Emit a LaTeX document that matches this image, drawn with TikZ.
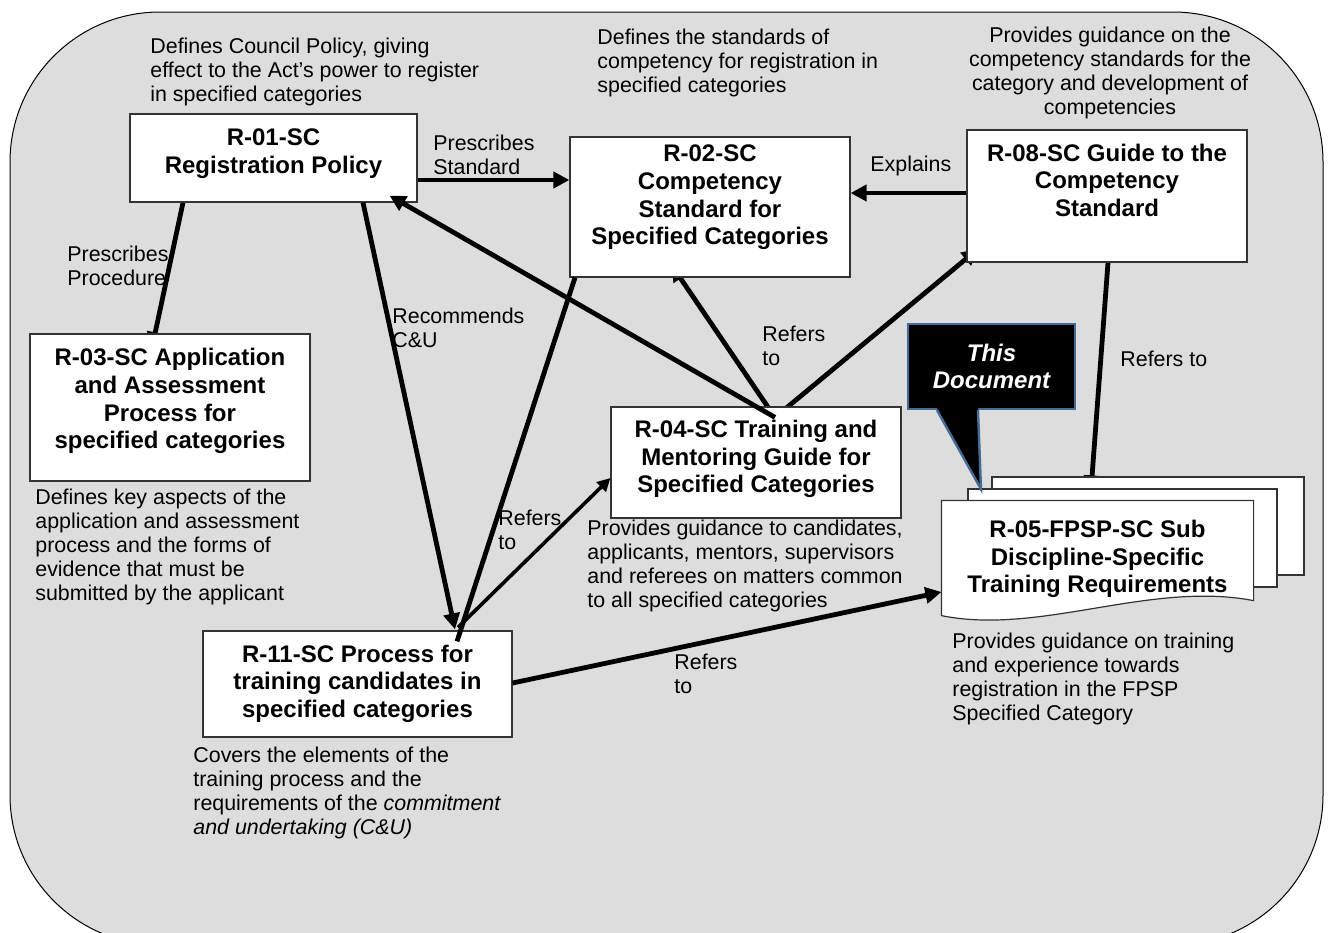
\documentclass[tikz,border=0pt]{standalone}
\usepackage{fontspec}
\setmainfont{Liberation Sans}
\usetikzlibrary{arrows.meta,calc}
\pgfdeclarelayer{panel}
\pgfdeclarelayer{under}
\pgfsetlayers{panel,under,main}
\definecolor{panelgray}{RGB}{221,221,221}
\definecolor{calloutblue}{RGB}{68,108,150}

\begin{document}
\begin{tikzpicture}[x=0.5pt,y=-0.5pt,
    doc/.style={draw=black!80, line width=0.6pt, fill=white, align=center,
      font=\fontsize{12}{13.8}\selectfont\bfseries, inner sep=0pt},
    sheet/.style={draw=black!80, line width=0.6pt, fill=white, inner sep=0pt},
    note/.style={anchor=north west, align=left, inner sep=0pt,
      font=\fontsize{10.7}{12}\selectfont},
    conn/.style={line width=2.4pt, -{Triangle[length=8pt,width=8pt]}},
    thinconn/.style={line width=1.8pt, -{Triangle[length=6.5pt,width=6.5pt]}},
    plainconn/.style={line width=2.4pt}]
  \useasboundingbox (0,0) rectangle (1328,932);

  \begin{pgfonlayer}{panel}
    \draw[fill=panelgray, line width=0.5pt, rounded corners=75pt] (10,12) rectangle (1323,945);
  \end{pgfonlayer}

  % the documents
  \node[doc, minimum width=143.5pt, minimum height=44pt, text depth=7pt] (r01) at (273.5,158) {R-01-SC\\Registration Policy};
  \node[doc, minimum width=140pt, minimum height=70pt, text depth=12pt] (r02) at (710,207) {R-02-SC\\Competency\\Standard for\\Specified Categories};
  \node[doc, minimum width=140pt, minimum height=66pt, text depth=16pt] (r08) at (1107,196) {R-08-SC Guide to the\\Competency\\Standard};
  \node[doc, minimum width=140pt, minimum height=73.5pt, text depth=9pt] (r03) at (170,407.5) {R-03-SC Application\\and Assessment\\Process for\\specified categories};
  \node[doc, minimum width=145pt, minimum height=55.5pt, text depth=6pt] (r04) at (756,462.5) {R-04-SC Training and\\Mentoring Guide for\\Specified Categories};
  \node[doc, minimum width=154.5pt, minimum height=53pt, text depth=3pt] (r11) at (357.5,684) {R-11-SC Process for\\training candidates in\\specified categories};
  \node[doc, draw=none, fill=none, minimum width=155.5pt, minimum height=58.5pt, text depth=3pt] (r05) at (1097.5,559.5) {R-05-FPSP-SC Sub\\Discipline-Specific\\Training Requirements};

  % callout
  \node[fill=black, draw=calloutblue, line width=1.2pt, minimum width=83.5pt, minimum height=42.5pt,
    text=white, align=center, inner sep=0pt,
    font=\fontsize{12}{13.5}\selectfont\bfseries\itshape] (this) at (991.5,366.5) {This\\Document};
  \fill[black] ($(this.south)+(-54.5,-2)$) -- ($(this.south)+(-10.5,79)$) -- ($(this.south)+(-13.5,-2)$) -- cycle;
  \draw[calloutblue, line width=1.2pt] ($(this.south)+(-54.5,0)$) -- ($(this.south)+(-10.5,79)$) -- ($(this.south)+(-13.5,0)$);

  % connectors whose heads hide under the boxes
  \begin{pgfonlayer}{under}
    \draw[conn] ($(r01.south)+(-90.5,0)$) -- ($(r03.north)+(-18.1,14.7)$);
    \draw[conn] ($(r04.north)+(19,11)$) -- ($(r02.south)+(-38.4,-12.4)$);
    \draw[conn] ($(r04.north)+(19,11)$) -- ($(r08.south west)+(11.5,-13.6)$);
    \draw[conn] ($(r08.south)+(1,0)$) -- ($(r05.north)+(-6.6,-9)$);
    \node[sheet, minimum width=156pt, minimum height=49pt] (r05c) at (1148,526) {};
    \node[sheet, minimum width=154.5pt, minimum height=49pt] (r05b) at (1122.5,538) {};
    \draw[sheet] (r05.north west) -- (r05.north east) -- ($(r05.south east)+(0,-18)$)
      .. controls ($(r05.south)+(52.5,-38)$) and ($(r05.south)+(-57.5,17)$) .. ($(r05.south west)+(0,-3)$) -- cycle;
  \end{pgfonlayer}

  \draw[conn] ($(r01.east)+(0,22)$) -- ($(r02.west)+(0,-27)$);
  \draw[conn] ($(r08.west)+(0,-3)$) -- ($(r02.east)+(0,-14)$);
  \draw[conn] ($(r01.south)+(89.5,0)$) -- ($(r11.north)+(97.5,-1)$);
  \draw[plainconn] ($(r11.north)+(99.5,11)$) -- ($(r02.south)+(-135,0)$);
  \draw[thinconn] ($(r11.north)+(100.5,-3)$) -- ($(r04.west)+(0,15.5)$);
  \draw[conn] ($(r04.north)+(19,11)$) -- ($(r01.south east)+(-28,-7)$);
  \draw[conn] ($(r11.east)+(0,-1)$) -- ($(r05.west)+(0,32.5)$);

  % descriptions
  \node[note] (n01) at (150,38) {Defines Council Policy, giving\\effect to the Act’s power to register\\in specified categories};
  \node[note] (n02) at (597,29) {Defines the standards of\\competency for registration in\\specified categories};
  \node[note, anchor=north, align=center] (n08) at (1110,27) {Provides guidance on the\\competency standards for the\\category and development of\\competencies};
  \node[note] (n03) at (35,489) {Defines key aspects of the\\application and assessment\\process and the forms of\\evidence that must be\\submitted by the applicant};
  \node[note] (n04) at (587,520) {Provides guidance to candidates,\\applicants, mentors, supervisors\\and referees on matters common\\to all specified categories};
  \node[note] (n05) at (952,633) {Provides guidance on training\\and experience towards\\registration in the FPSP\\Specified Category};
  \node[note] (n11) at (193,747) {Covers the elements of the\\training process and the\\requirements of the \textit{commitment}\\\textit{and undertaking (C\&U)}};

  % connector labels
  \node[note] (l01) at (433,135) {Prescribes\\Standard};
  \node[note] (l02) at (870,156) {Explains};
  \node[note] (l03) at (67,246) {Prescribes\\Procedure};
  \node[note] (l04) at (392,308) {Recommends\\C\&U};
  \node[note] (l05) at (762,326) {Refers\\to};
  \node[note] (l06) at (1120,351) {Refers to};
  \node[note] (l07) at (498,510) {Refers\\to};
  \node[note] (l08) at (674,654) {Refers\\to};
\end{tikzpicture}
\end{document}
